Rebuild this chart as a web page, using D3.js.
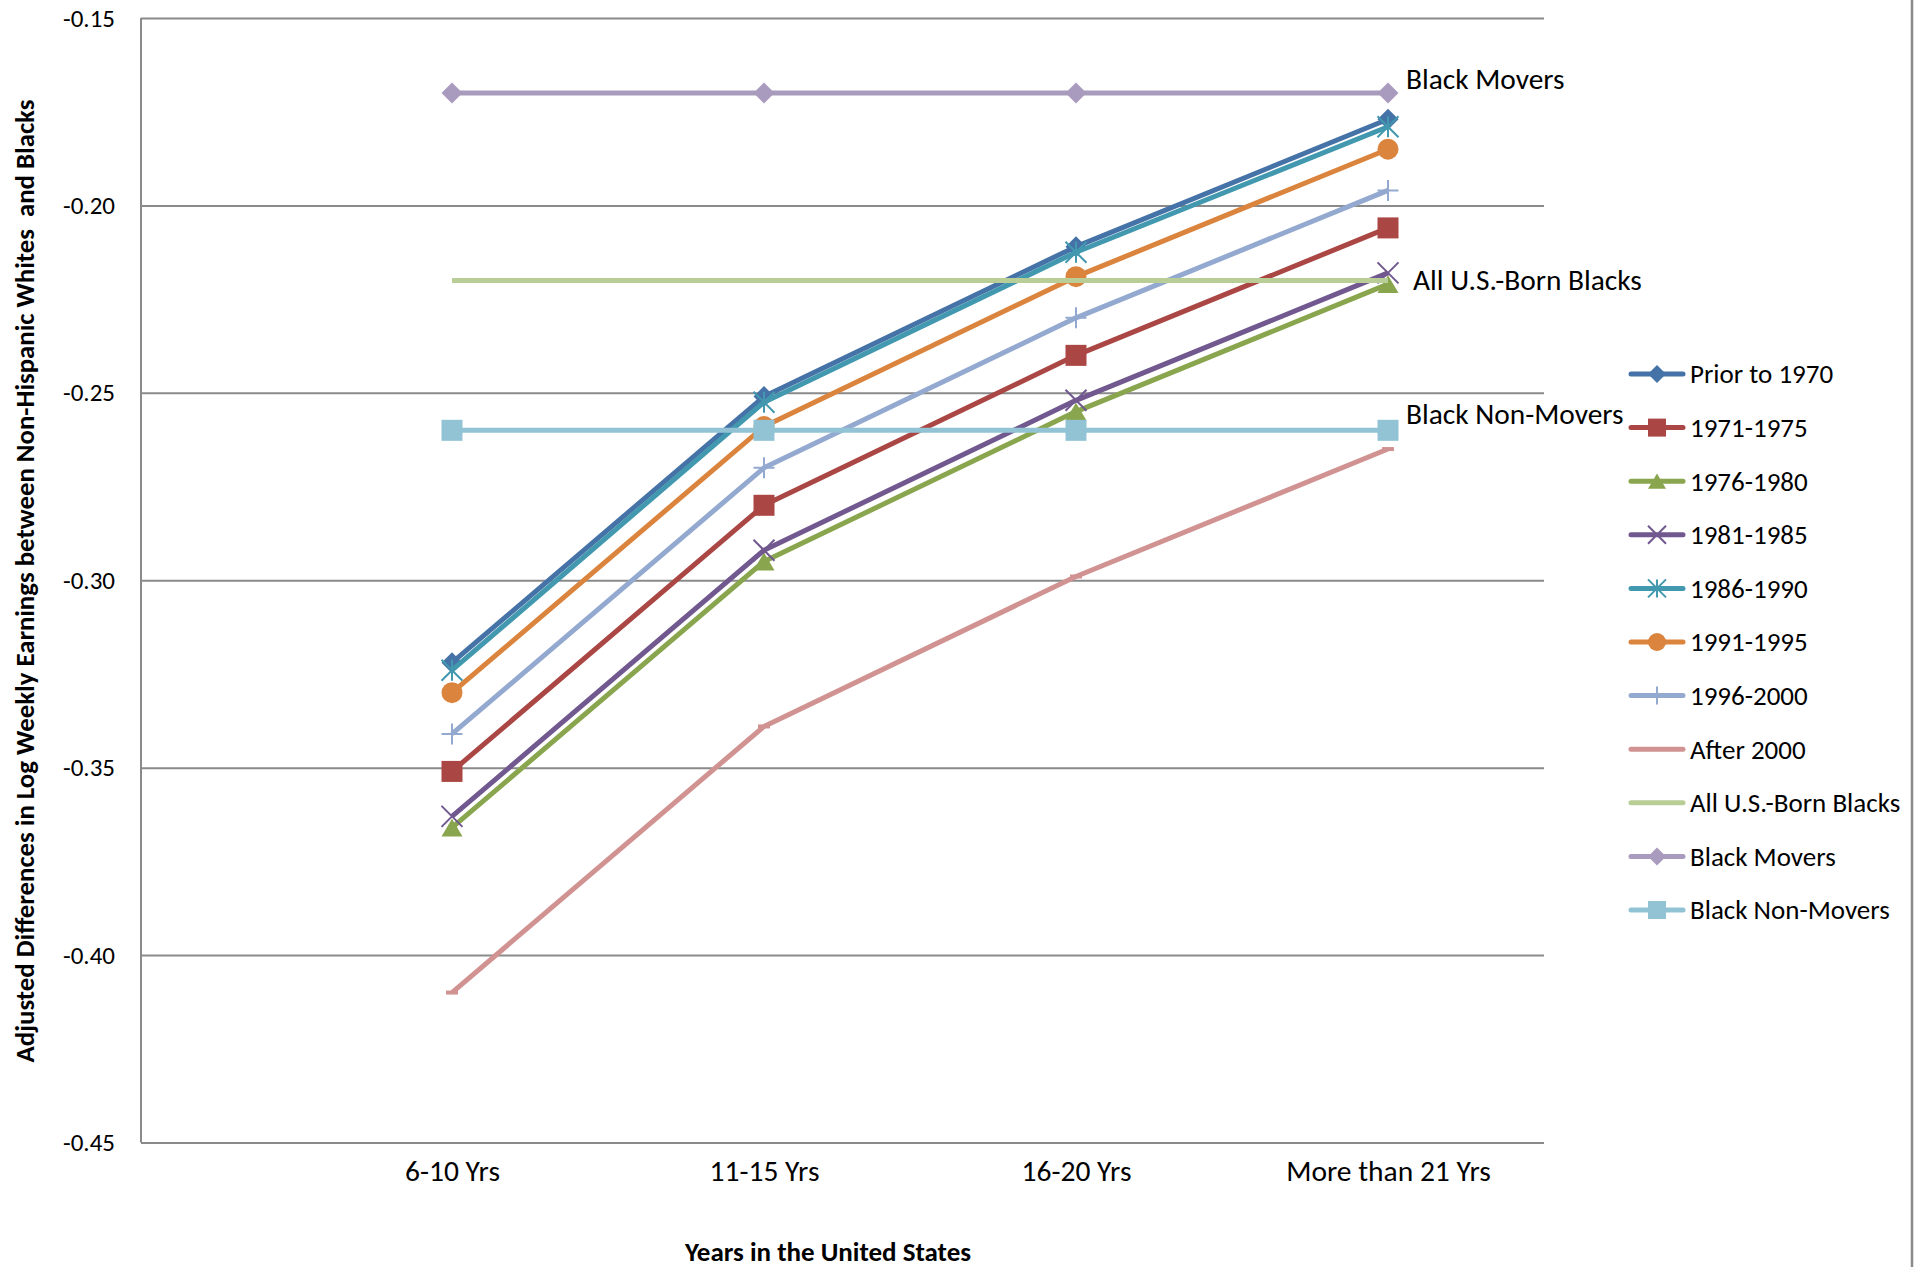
<!DOCTYPE html>
<html>
<head>
<meta charset="utf-8">
<script src="https://cdn.jsdelivr.net/npm/d3@7"></script>
<style>
  html, body { margin: 0; padding: 0; background: #fff; }
  svg { display: block; }
  text { font-family: Carlito, Calibri, Lato, sans-serif; fill: #000; }
</style>
</head>
<body>
<svg id="chart" width="1921" height="1267"></svg>
<script>
// ---------------- DATA ----------------
const categories = ["6-10 Yrs", "11-15 Yrs", "16-20 Yrs", "More than 21 Yrs"];
const yTicks = [-0.45, -0.40, -0.35, -0.30, -0.25, -0.20, -0.15];

const seriesNames = ["Prior to 1970", "1971-1975", "1976-1980", "1981-1985", "1986-1990",
  "1991-1995", "1996-2000", "After 2000", "All U.S.-Born Blacks", "Black Movers", "Black Non-Movers"];

const prior1970      = [-0.322, -0.251, -0.211, -0.177];
const arr1971_1975   = [-0.351, -0.280, -0.240, -0.206];
const arr1976_1980   = [-0.366, -0.295, -0.255, -0.221];
const arr1981_1985   = [-0.363, -0.292, -0.252, -0.218];
const arr1986_1990   = [-0.324, -0.2525, -0.2125, -0.179];
const arr1991_1995   = [-0.330, -0.259, -0.219, -0.185];
const arr1996_2000   = [-0.341, -0.270, -0.230, -0.196];
const after2000      = [-0.410, -0.339, -0.299, -0.265];
const allUSBornBlacks = [-0.220, -0.220, -0.220, -0.220];
const blackMovers    = [-0.170, -0.170, -0.170, -0.170];
const blackNonMovers = [-0.260, -0.260, -0.260, -0.260];

const seriesValues = [prior1970, arr1971_1975, arr1976_1980, arr1981_1985, arr1986_1990,
  arr1991_1995, arr1996_2000, after2000, allUSBornBlacks, blackMovers, blackNonMovers];

// inline annotation labels (series index)
const inlineLabels = [
  { series: 9, text: "Black Movers" },
  { series: 8, text: "All U.S.-Born Blacks" },
  { series: 10, text: "Black Non-Movers" }
];

// ---------------- STYLE ----------------
const colors = ["#4572A7", "#AA4643", "#89A54E", "#71588F", "#4198AF",
  "#DB843D", "#93A9CF", "#D19392", "#B9CD96", "#A99BBD", "#91C3D5"];
const markers = ["diamond", "square", "triangle", "x", "star", "circle", "plus", "dash", "none", "diamond", "square"];

const svg = d3.select("#chart");
const W = 1921, H = 1267;
svg.append("rect").attr("width", W).attr("height", H).attr("fill", "#fff");

const plot = { left: 141, right: 1544, top: 18, bottom: 1142.5 };
const x = d3.scalePoint().domain(categories).range([452, 1388]);
const y = d3.scaleLinear().domain([-0.45, -0.15]).range([plot.bottom, plot.top]);

const gridColor = "#8a8a8a";
const FONT = "Carlito, Calibri, Lato, sans-serif";

// gridlines + tick labels
const yAxis = d3.axisLeft(y).tickValues(yTicks).tickFormat(d => d.toFixed(2))
  .tickSize(-(plot.right - plot.left)).tickPadding(26);
const gy = svg.append("g").attr("transform", `translate(${plot.left},0)`).call(yAxis);
gy.select(".domain").remove();
gy.selectAll(".tick line").attr("stroke", gridColor).attr("stroke-width", 2);
gy.selectAll(".tick text").attr("font-size", 25).attr("fill", "#000").attr("font-family", FONT);

// left axis line
svg.append("line").attr("x1", plot.left).attr("x2", plot.left)
  .attr("y1", plot.top).attr("y2", plot.bottom)
  .attr("stroke", gridColor).attr("stroke-width", 2);

// x axis labels
const xAxis = d3.axisBottom(x).tickSize(0).tickPadding(0);
const gx = svg.append("g").attr("transform", `translate(0,${plot.bottom})`).call(xAxis);
gx.select(".domain").remove();
gx.selectAll(".tick text").attr("font-size", 29.5).attr("fill", "#000")
  .attr("dy", null).attr("y", 38.5).attr("font-family", FONT);

// right frame line
svg.append("line").attr("x1", 1912).attr("x2", 1912).attr("y1", 0).attr("y2", H)
  .attr("stroke", gridColor).attr("stroke-width", 2.5);

// axis titles
svg.append("text").attr("transform", `translate(34,581) rotate(-90)`)
  .attr("text-anchor", "middle").attr("font-weight", "bold").attr("font-size", 26.8)
  .text("Adjusted Differences in Log Weekly Earnings between Non-Hispanic Whites\u00a0 and Blacks");
svg.append("text").attr("x", 828).attr("y", 1261)
  .attr("text-anchor", "middle").attr("font-weight", "bold").attr("font-size", 27)
  .text("Years in the United States");

// marker drawing
function drawMarker(g, type, color, cx, cy, s) {
  const r = s / 2;
  switch (type) {
    case "diamond":
      g.append("path").attr("d", `M${cx},${cy - r}L${cx + r},${cy}L${cx},${cy + r}L${cx - r},${cy}Z`).attr("fill", color);
      break;
    case "square":
      g.append("rect").attr("x", cx - r).attr("y", cy - r).attr("width", s).attr("height", s).attr("fill", color);
      break;
    case "triangle":
      g.append("path").attr("d", `M${cx},${cy - r * 0.85}L${cx + r},${cy + r * 0.85}L${cx - r},${cy + r * 0.85}Z`).attr("fill", color);
      break;
    case "circle":
      g.append("circle").attr("cx", cx).attr("cy", cy).attr("r", r).attr("fill", color);
      break;
    case "x":
      g.append("path").attr("d", `M${cx - r},${cy - r}L${cx + r},${cy + r}M${cx - r},${cy + r}L${cx + r},${cy - r}`)
        .attr("stroke", color).attr("stroke-width", 2).attr("fill", "none");
      break;
    case "star":
      g.append("path").attr("d", `M${cx - r},${cy - r}L${cx + r},${cy + r}M${cx - r},${cy + r}L${cx + r},${cy - r}M${cx},${cy - r}L${cx},${cy + r}`)
        .attr("stroke", color).attr("stroke-width", 2).attr("fill", "none");
      break;
    case "plus":
      g.append("path").attr("d", `M${cx - r},${cy}L${cx + r},${cy}M${cx},${cy - r}L${cx},${cy + r}`)
        .attr("stroke", color).attr("stroke-width", 2).attr("fill", "none");
      break;
    case "dash":
      g.append("rect").attr("x", cx - 6).attr("y", cy - 2).attr("width", 12).attr("height", 4).attr("fill", color);
      break;
  }
}

const line = d3.line().x((d, i) => x(categories[i])).y(d => y(d));

// series
seriesValues.forEach((vals, si) => {
  const g = svg.append("g");
  g.append("path").datum(vals).attr("d", line).attr("fill", "none")
    .attr("stroke", colors[si]).attr("stroke-width", 5).attr("stroke-linejoin", "round");
  vals.forEach((v, i) => drawMarker(g, markers[si], colors[si], x(categories[i]), y(v), 21));
});

// inline labels
const inlineOffsets = { 9: [18, -4], 8: [25, 10], 10: [18, -6] };
inlineLabels.forEach(l => {
  const vals = seriesValues[l.series];
  const last = categories[categories.length - 1];
  const off = inlineOffsets[l.series];
  svg.append("text").attr("x", x(last) + off[0]).attr("y", y(vals[vals.length - 1]) + off[1])
    .attr("font-size", 29.4).text(l.text);
});

// legend
const legend = svg.append("g");
seriesNames.forEach((name, i) => {
  const cy = 374 + i * 53.6;
  legend.append("line").attr("x1", 1631).attr("x2", 1683).attr("y1", cy).attr("y2", cy)
    .attr("stroke", colors[i]).attr("stroke-width", 5).attr("stroke-linecap", "round");
  if (markers[i] !== "dash") drawMarker(legend, markers[i], colors[i], 1657, cy, 18);
  legend.append("text").attr("x", 1690).attr("y", cy).attr("dy", "0.35em")
    .attr("font-size", 27).text(name);
});
</script>
</body>
</html>
